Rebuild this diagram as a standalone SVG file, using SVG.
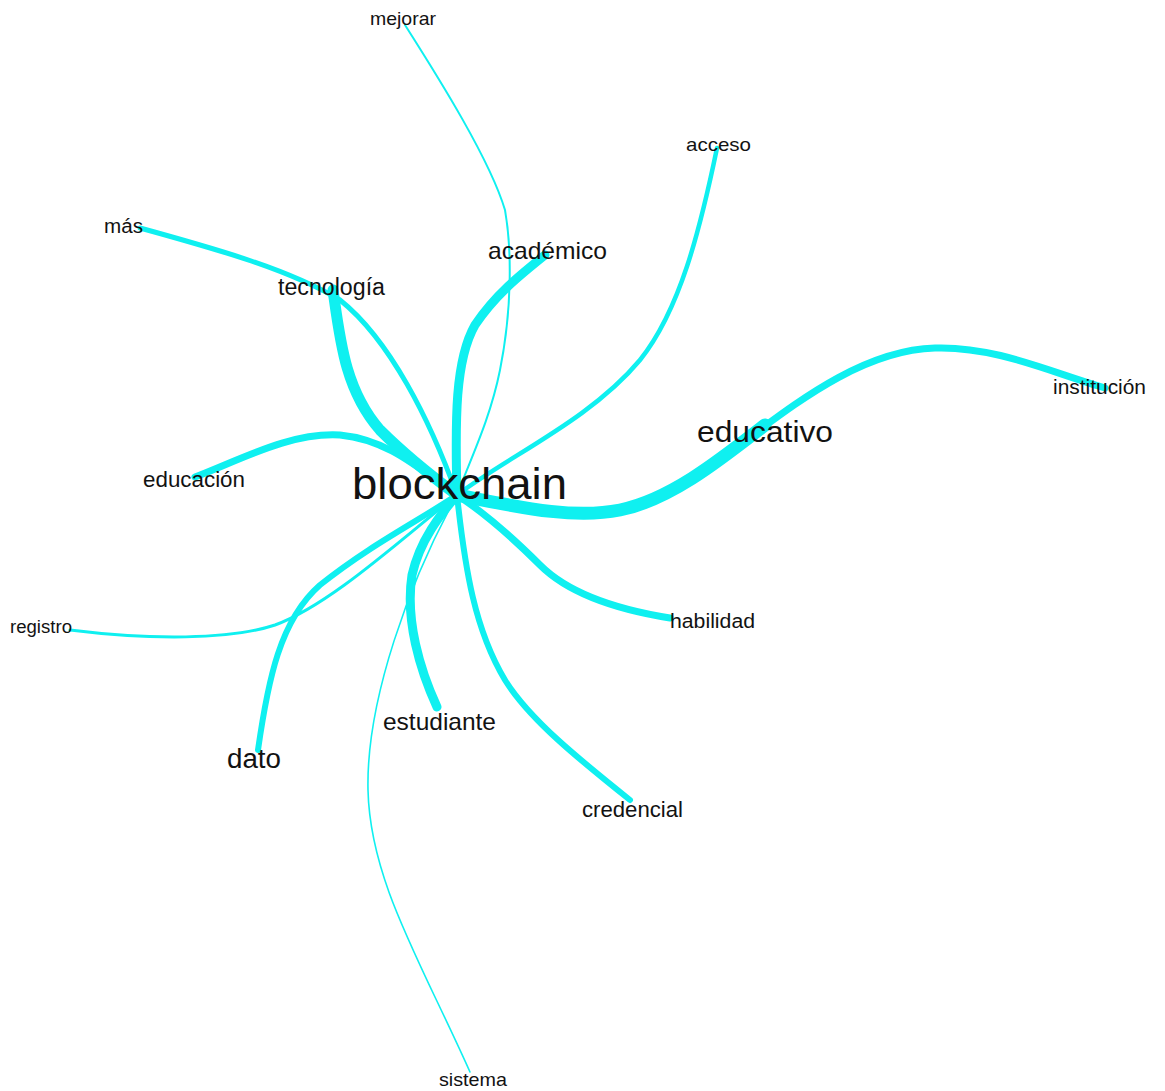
<svg xmlns="http://www.w3.org/2000/svg" width="1165" height="1091" viewBox="0 0 1165 1091">
<style>
.e{fill:none;stroke:#0ff0f0;stroke-linecap:round;stroke-linejoin:round}
.t{font-family:"Liberation Sans",Arial,sans-serif;fill:#121212}
</style>
<rect width="1165" height="1091" fill="#ffffff"/>
<g id="connectors">
<path class="e" stroke-width="1.6" d="M470,1072 C420,960 370,880 368,790 C366,700 410,580 457,495"/>
<path class="e" stroke-width="2" d="M405,25 C440,80 490,160 505,210 C512,250 512,310 500,370 C490,420 470,460 457,495"/>
<path class="e" stroke-width="3" d="M70,630 C150,640 230,640 275,625 C330,605 400,540 457,495"/>
<path class="e" stroke-width="4.5" d="M717,148 C700,230 680,310 640,360 C590,420 510,455 457,495"/>
<path class="e" stroke-width="5" d="M140,228 C220,250 290,270 340,300 C390,340 430,420 457,495"/>
<path class="e" stroke-width="7" d="M195,477 C240,460 290,432 340,435 C390,440 420,470 457,495"/>
<path class="e" stroke-width="6" d="M258,750 C268,680 280,620 320,585 C370,545 420,520 457,495"/>
<path class="e" stroke-width="9" d="M437,707 C420,670 405,620 412,575 C420,540 440,515 457,495"/>
<path class="e" stroke-width="6" d="M630,800 C580,760 530,720 505,680 C475,630 465,570 457,495"/>
<path class="e" stroke-width="7" d="M670,618 C620,610 570,595 540,565 C510,535 480,510 457,495"/>
<path class="e" stroke-width="9" d="M545,255 C520,275 495,295 475,325 C455,360 455,420 457,495"/>
<path class="e" stroke-width="11" d="M333,290 C340,340 345,390 380,430 C405,455 430,475 457,495"/>
<path class="e" stroke-width="13" d="M457,495 C510,505 570,520 620,510 C670,500 720,460 765,425"/>
<path class="e" stroke-width="7" d="M750,437 C800,400 865,350 935,348 C995,346 1050,372 1105,388"/>
</g>
<g id="node-blockchain"><text class="t" x="352" y="499" font-size="45" textLength="215" lengthAdjust="spacingAndGlyphs">blockchain</text></g>
<g id="node-educativo"><text class="t" x="697" y="442" font-size="30" textLength="136" lengthAdjust="spacingAndGlyphs">educativo</text></g>
<g id="node-institucion"><text class="t" x="1053" y="394" font-size="20" textLength="93" lengthAdjust="spacingAndGlyphs">institución</text></g>
<g id="node-academico"><text class="t" x="488" y="259" font-size="24" textLength="119" lengthAdjust="spacingAndGlyphs">académico</text></g>
<g id="node-tecnologia"><text class="t" x="278" y="295" font-size="23" textLength="107" lengthAdjust="spacingAndGlyphs">tecnología</text></g>
<g id="node-mas"><text class="t" x="104" y="233" font-size="20" textLength="39" lengthAdjust="spacingAndGlyphs">más</text></g>
<g id="node-mejorar"><text class="t" x="370" y="25" font-size="19" textLength="66" lengthAdjust="spacingAndGlyphs">mejorar</text></g>
<g id="node-acceso"><text class="t" x="686" y="151" font-size="19" textLength="65" lengthAdjust="spacingAndGlyphs">acceso</text></g>
<g id="node-educacion"><text class="t" x="143" y="487" font-size="22" textLength="102" lengthAdjust="spacingAndGlyphs">educación</text></g>
<g id="node-registro"><text class="t" x="10" y="633" font-size="18" textLength="62" lengthAdjust="spacingAndGlyphs">registro</text></g>
<g id="node-dato"><text class="t" x="227" y="768" font-size="27" textLength="54" lengthAdjust="spacingAndGlyphs">dato</text></g>
<g id="node-estudiante"><text class="t" x="383" y="730" font-size="24" textLength="113" lengthAdjust="spacingAndGlyphs">estudiante</text></g>
<g id="node-habilidad"><text class="t" x="670" y="628" font-size="20" textLength="85" lengthAdjust="spacingAndGlyphs">habilidad</text></g>
<g id="node-credencial"><text class="t" x="582" y="817" font-size="22" textLength="101" lengthAdjust="spacingAndGlyphs">credencial</text></g>
<g id="node-sistema"><text class="t" x="439" y="1086" font-size="19" textLength="68" lengthAdjust="spacingAndGlyphs">sistema</text></g>
</svg>
